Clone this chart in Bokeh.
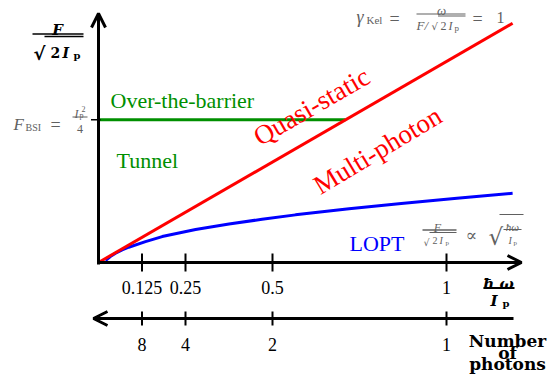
from bokeh.plotting import figure
from bokeh.models import Range1d, Label, Arrow, OpenHead
from bokeh.embed import file_html
from bokeh.resources import INLINE
from bokeh.core.properties import value

W, H = 547, 376

# ---- data -------------------------------------------------------------
freq_ticks = [0.125, 0.25, 0.5, 1.0]          # hbar*omega / Ip
freq_labels = ["0.125", "0.25", "0.5", "1"]
photon_numbers = [8, 4, 2, 1]                  # Ip / (hbar*omega)
photon_labels = ["8", "4", "2", "1"]

# Keldysh parameter gamma = 1  ->  F/sqrt(2Ip) = omega
keldysh_x = [0.0, 1.19]
keldysh_y = [0.0, 1.19]

# barrier-suppression field
f_bsi = 0.71
bsi_x = [0.0, 0.71]
bsi_y = [f_bsi, f_bsi]

# lowest-order perturbation theory boundary
lopt_x = [0.020, 0.034, 0.049, 0.068, 0.087, 0.135, 0.183, 0.231, 0.279, 0.375,
          0.470, 0.566, 0.720, 0.870, 1.030, 1.190]
lopt_y = [0.010, 0.030, 0.046, 0.063, 0.076, 0.104, 0.129, 0.147, 0.164, 0.192,
          0.215, 0.237, 0.267, 0.294, 0.320, 0.344]

# ---- geometry of the drawing (origin in pixels, pixels per unit) -----
X0, SX = 98, 348
Y0, SY = 262, 201


def dx(px):
    return (px - X0) / SX


def dy(py):
    return (Y0 - py) / SY


p = figure(width=W, height=H, x_range=Range1d(dx(0), dx(W)), y_range=Range1d(dy(H), dy(0)),
           output_backend="svg", toolbar_location=None,
           x_axis_location=None, y_axis_location=None,
           min_border=0, outline_line_color=None,
           background_fill_color="white", border_fill_color="white")
p.grid.visible = False

SERIF = "Liberation Serif"
BOLD_SERIF = "DejaVu Serif"
ROOT_FONT = "DejaVu Sans"
GRAY = "#606060"
RED, BLUE, GREEN = "#ff0000", "#0000ff", "#008f00"


def put(px, py, s, size, color="black", style="normal", font=SERIF, align="left", angle=0):
    p.add_layout(Label(x=px, y=H - py, x_units="screen", y_units="screen", text=s,
                       text_font=font, text_font_size=f"{size}px", text_color=color,
                       text_font_style=style, text_align=align, text_baseline="alphabetic",
                       angle=angle, angle_units="deg"))


def bar(x0, x1, py, w=1.2, color=GRAY):
    p.segment(x0=[dx(x0)], y0=[dy(py)], x1=[dx(x1)], y1=[dy(py)], line_width=w, line_color=color)


# ---- curves -----------------------------------------------------------
p.line(lopt_x, lopt_y, line_color=BLUE, line_width=3)
p.line(bsi_x, bsi_y, line_color=GREEN, line_width=3)
p.line(keldysh_x, keldysh_y, line_color=RED, line_width=3)

# ---- axes -------------------------------------------------------------
AXW = 3
head = dict(size=14, line_width=AXW, line_color="black")
p.add_layout(Arrow(end=OpenHead(**head), x_start=dx(98), y_start=dy(264),
                   x_end=dx(98), y_end=dy(13), line_width=AXW))
p.add_layout(Arrow(end=OpenHead(**head), x_start=dx(96.5), y_start=0,
                   x_end=dx(521), y_end=0, line_width=AXW))
axis2_y = dy(318)
p.add_layout(Arrow(end=OpenHead(**head), x_start=dx(513), y_start=axis2_y,
                   x_end=dx(93), y_end=axis2_y, line_width=AXW))

# frequency ticks
p.segment(x0=freq_ticks, y0=dy(253), x1=freq_ticks, y1=dy(271), line_width=2, line_color="black")
p.text(x=freq_ticks, y=[dy(287)] * len(freq_ticks), text=freq_labels,
       text_align="center", text_baseline="alphabetic",
       text_font=value(SERIF), text_font_size="18px", text_color="black")

# photon-number ticks at hbar*omega/Ip = 1/n
photon_pos = [1.0 / n for n in photon_numbers]
p.segment(x0=photon_pos, y0=dy(311), x1=photon_pos, y1=dy(325), line_width=2, line_color="black")
p.text(x=photon_pos, y=[dy(344)] * len(photon_pos), text=photon_labels,
       text_align="center", text_baseline="alphabetic",
       text_font=value(SERIF), text_font_size="18px", text_color="black")

# F_BSI tick on the field axis
p.segment(x0=[dx(90.5)], y0=[f_bsi], x1=[dx(100)], y1=[f_bsi], line_width=1.5, line_color="black")

# ---- axis titles ------------------------------------------------------
# F / sqrt(2 Ip)
put(57, 29, "F", 15, style="bold italic", font=BOLD_SERIF, align="center")
bar(32, 83, 33.5, w=1.6, color="black")
put(33, 53, "√", 18, font=ROOT_FONT, style="bold")
bar(44, 83, 36, w=1.6, color="black")
put(50, 52, "2", 14, style="bold", font=BOLD_SERIF)
put(62, 52, "I", 14, style="bold italic", font=BOLD_SERIF)
put(73, 55, "p", 10, style="bold", font=BOLD_SERIF)

# hbar omega / Ip
put(498, 283, "ħ ω", 15, style="bold italic", font=BOLD_SERIF, align="center")
bar(483, 514, 287.5, w=2, color="black")
put(490, 300, "I", 15, style="bold italic", font=BOLD_SERIF)
put(502, 303, "p", 10, style="bold", font=BOLD_SERIF)

# Number of photons
for i, word in enumerate(["Number", "of", "photons"]):
    put(507, 340.5 + 11.5 * i, word, 17, style="bold", font=BOLD_SERIF, align="center")

# ---- region names -----------------------------------------------------
put(110, 100, "Over-the-barrier", 22, color=GREEN)
put(116, 160, "Tunnel", 22, color=GREEN)
put(311, 106, "Quasi-static", 27, color=RED, align="center", angle=30)
put(377, 150, "Multi-photon", 27, color=RED, align="center", angle=31)
put(349, 243, "LOPT", 22, color=BLUE)

# ---- formulas ---------------------------------------------------------
# F_BSI = Ip^2 / 4
put(13, 124, "F", 17, color=GRAY, style="italic")
put(25, 127, "BSI", 10, color=GRAY)
put(50, 124, "=", 18, color=GRAY)
put(74, 113, "I", 12, color=GRAY, style="italic")
put(79, 115, "p", 8, color=GRAY)
put(81, 108, "2", 8, color=GRAY)
bar(72, 87, 116.5)
put(79.5, 128, "4", 12, color=GRAY, align="center")

# gamma_Kel = omega / (F / sqrt(2 Ip)) = 1
put(356, 16, "γ", 18, color=GRAY, style="italic")
put(366, 19.5, "Kel", 11, color=GRAY)
put(389, 18, "=", 18, color=GRAY)
put(441, 10, "ω", 13, color=GRAY, style="italic", align="center")
bar(416, 465, 13.5)
put(416, 25, "F/", 13, color=GRAY, style="italic")
put(431, 25.5, "√", 10, color=GRAY, font=ROOT_FONT)
bar(437.5, 465, 15.5)
put(440, 25, "2", 12, color=GRAY)
put(448, 25, "I", 12, color=GRAY, style="italic")
put(454, 27, "p", 9, color=GRAY)
put(472, 18, "=", 18, color=GRAY)
put(500, 17, "1", 16, color=GRAY, align="center")

# F/sqrt(2Ip) ~ sqrt(hbar omega / Ip)
put(437, 227, "F", 12, color=GRAY, style="italic", align="center")
bar(422, 456, 229.5, w=1.6)
put(423, 241.5, "√", 9.5, color=GRAY, font=ROOT_FONT)
bar(429, 456, 232)
put(432, 240, "2", 10, color=GRAY)
put(439, 240, "I", 10, color=GRAY, style="italic")
put(445, 242, "p", 7, color=GRAY)
put(465, 234, "∝", 17, color=GRAY, font="DejaVu Serif")
put(488, 236, "√", 23, color=GRAY, font=ROOT_FONT)
bar(499, 523, 214)
put(512, 226, "ħω", 11, color=GRAY, style="italic", align="center")
bar(503, 521, 229)
put(508, 240, "I", 10, color=GRAY, style="italic")
put(513, 242, "p", 7, color=GRAY)

open("out.html", "w").write(file_html(p, INLINE))
